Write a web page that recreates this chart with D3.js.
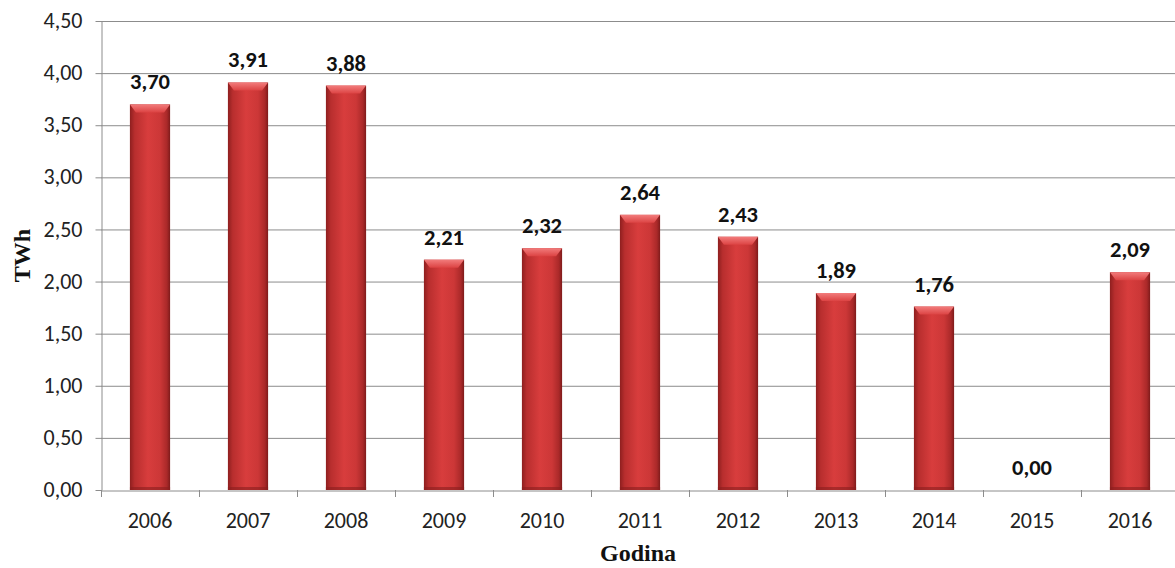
<!DOCTYPE html>
<html><head><meta charset="utf-8">
<script src="https://cdn.jsdelivr.net/npm/d3@7"></script>
<style>body{margin:0;background:#fff}svg{display:block}</style>
</head><body>
<svg id="c" width="1175" height="568"></svg>
<script>
const categories = ["2006","2007","2008","2009","2010","2011","2012","2013","2014","2015","2016"];
const values = [3.70,3.91,3.88,2.21,2.32,2.64,2.43,1.89,1.76,0.00,2.09];
const yTicks = [0,0.5,1,1.5,2,2.5,3,3.5,4,4.5];
const yTitle = "TWh";
const xTitle = "Godina";

const svg = d3.select("#c");
const m = {l:101, r:0, t:21, b:78};
const W = 1175, H = 568;
const FONT = "Carlito, Calibri, Lato, sans-serif";
const x = d3.scaleBand().domain(categories).range([m.l, 1179]).paddingInner(0.59).paddingOuter(0.295);
const y = d3.scaleLinear().domain([0,4.5]).range([H-m.b, m.t]);
const fmt = d => d3.format(".2f")(d).replace(".", ",");

const defs = svg.append("defs");
const g1 = defs.append("linearGradient").attr("id","bar").attr("x1",0).attr("x2",1).attr("y1",0).attr("y2",0);
[[0,"#8e1f1f"],[0.12,"#b82e2e"],[0.45,"#d83d3d"],[0.75,"#cc3737"],[0.92,"#aa2929"],[1,"#7e1b1b"]].forEach(s=>g1.append("stop").attr("offset",s[0]).attr("stop-color",s[1]));
const g2 = defs.append("linearGradient").attr("id","top").attr("x1",0).attr("x2",0).attr("y1",0).attr("y2",1);
[[0,"#f27c7c"],[1,"#dc4343"]].forEach(s=>g2.append("stop").attr("offset",s[0]).attr("stop-color",s[1]));

// gridlines
svg.append("g").selectAll("line").data(yTicks.filter(d=>d>0)).join("line")
  .attr("x1",m.l).attr("x2",W).attr("y1",d=>y(d)+0.5).attr("y2",d=>y(d)+0.5)
  .attr("stroke","#8c8c8c").attr("stroke-width",1);

// y axis
const ya = svg.append("g").attr("transform",`translate(${m.l+0.5},0)`)
  .call(d3.axisLeft(y).tickValues(yTicks).tickFormat(fmt).tickSize(6).tickSizeOuter(0));
ya.select(".domain").attr("stroke","#8c8c8c");
ya.selectAll(".tick line").attr("stroke","#8c8c8c");
ya.selectAll(".tick text").attr("x",-19).attr("dy","0.3em").attr("font-family",FONT).attr("font-size",22).attr("fill","#222");

// x axis
const xa = svg.append("g").attr("transform",`translate(0,${y(0)+0.5})`)
  .call(d3.axisBottom(x).tickSize(0).tickSizeOuter(0));
xa.select(".domain").attr("stroke","#8c8c8c");
xa.selectAll(".tick text").attr("y",37).attr("dy",0).attr("font-family",FONT).attr("font-size",22).attr("fill","#222");
// category boundary ticks
const half = (x.step()-x.bandwidth())/2;
const bounds = categories.map(c=>x(c)-half).concat([x(categories[categories.length-1])+x.bandwidth()+half]);
svg.append("g").selectAll("line").data(bounds).join("line")
  .attr("x1",d=>Math.round(d)+0.5).attr("x2",d=>Math.round(d)+0.5)
  .attr("y1",y(0)).attr("y2",y(0)+7).attr("stroke","#8c8c8c");

// bars
const data = values.map((v,i)=>({v,c:categories[i]}));
const bars = svg.append("g").selectAll("g").data(data).join("g").filter(d=>d.v>0);
bars.append("rect").attr("x",d=>x(d.c)).attr("width",x.bandwidth())
  .attr("y",d=>y(d.v)).attr("height",d=>y(0)-y(d.v)).attr("fill","url(#bar)");
bars.append("path").attr("d",d=>{
  const x0=x(d.c), x1=x0+x.bandwidth(), t=y(d.v), h=8;
  return `M${x0},${t}L${x1},${t}L${x1-6},${t+h}L${x0+6},${t+h}Z`;
}).attr("fill","url(#top)");
bars.append("rect").attr("x",d=>x(d.c)).attr("width",x.bandwidth())
  .attr("y",y(0)-3).attr("height",3).attr("fill","#8a1e1e").attr("opacity",0.6);

// value labels
svg.append("g").selectAll("text").data(data).join("text")
  .attr("x",d=>x(d.c)+x.bandwidth()/2).attr("y",d=>y(d.v)-15)
  .attr("text-anchor","middle").attr("font-family",FONT).attr("font-weight","bold")
  .attr("font-size",22.5).attr("fill","#111").text(d=>fmt(d.v));

// titles
svg.append("text").attr("transform",`translate(30,${(y(0)+y(4.5))/2}) rotate(-90)`)
  .attr("text-anchor","middle").attr("font-family","Liberation Serif, serif").attr("font-weight","bold")
  .attr("font-size",24).attr("fill","#111").text(yTitle);
svg.append("text").attr("x",638).attr("y",561).attr("text-anchor","middle")
  .attr("font-family","Liberation Serif, serif").attr("font-weight","bold")
  .attr("font-size",24).attr("fill","#111").text(xTitle);
</script>
</body></html>
